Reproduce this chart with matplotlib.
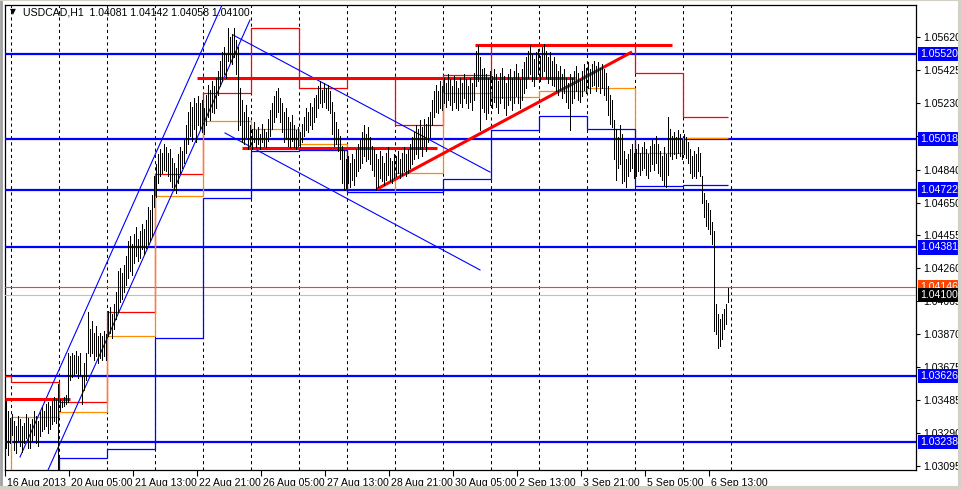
import matplotlib
matplotlib.use("Agg")
import matplotlib.pyplot as plt
import numpy as np
from matplotlib.transforms import blended_transform_factory, ScaledTranslation
from matplotlib.lines import Line2D

plt.rcParams['font.family'] = ['Liberation Sans', 'DejaVu Sans']

# ---------------- data ----------------
# hourly bar highs / lows, in units of 0.00001 above 1.00000 (e.g. 3483 -> 1.03483)
high_pts = [
    3480,3420,3380,3400,3360,3330,3390,3370,3330,3350,3400,3380,3340,3370,3420,3390,3360,3410,3440,3420,3460,3470,3450,3480,3500,3490,3580,
    3490,3480,3500,3510,3760,3740,3760,3750,3770,3740,3760,3630,3700,3760,4000,3900,3950,3880,3920,3860,3880,
    3860,3890,3870,4010,4030,3990,4050,4120,4240,4260,4230,4280,4330,4420,4450,4400,4460,4500,4430,4480,4520,4490,4540,4620,4600,4690,4800,4870,4930,4960,4940,4990,4970,
    4940,4960,4910,4880,4850,4930,4970,4950,5020,5100,5180,5240,5210,5260,5230,5270,5230,5250,
    5200,5280,5340,5310,5360,5330,5380,5420,5480,5530,5560,5520,5670,5620,5640,5673,5600,5560,5320,5250,5180,5220,5150,
    5100,5080,5120,5070,5090,5050,5110,5080,5060,5140,5190,5230,5270,5300,5320,5260,5230,5180,5200,5150,5120,5160,5100,5070,5090,
    5060,5110,5150,5200,5180,5230,5210,5260,5280,5330,5360,5310,5350,5320,5340,5300,5240,5180,5120,5080,5040,4980,4950,4900,
    4920,4880,4930,4900,4960,4990,5020,5060,5100,5050,5090,5030,4980,4960,4930,4900,4950,4920,4880,4940,4970,4910,4890,4930,
    4920,4950,4900,4940,4970,4930,4960,4990,5030,5060,5100,5080,5130,5090,5140,5110,5150,5180,5250,5300,5340,5300,5360,5330,
    5380,5350,5400,5370,5330,5390,5360,5320,5380,5350,5400,5370,5330,5380,5350,5410,5540,5570,5500,5430,5440,5400,5380,5420,
    5390,5430,5400,5360,5410,5440,5390,5350,5400,5430,5380,5420,5460,5410,5370,5430,5470,5500,5540,5573,5520,5490,5530,5550,
    5510,5560,5580,5540,5500,5530,5480,5500,5460,5420,5450,5400,5430,5380,5350,5400,5380,5420,5450,5410,5370,5420,5460,5440,
    5470,5430,5460,5480,5450,5470,5440,5460,5430,5410,5330,5280,5250,5130,5080,5030,5100,5050,4950,4900,4930,4960,4990,4940,
    4960,4990,4940,4970,5000,4960,4930,4980,5020,4990,5040,4990,4950,4920,4970,4930,5150,5080,5040,5060,5030,5070,5050,5020,
    5050,5030,5000,4960,4920,4950,4930,4970,4940,4800,4700,4660,4640,4600,4530,4480,4050,3990,3960,3990,4020,4050,4142,
]
low_pts = [
    3200,3160,3230,3280,3190,3170,3250,3210,3180,3230,3260,3200,3200,3240,3280,3230,3210,3270,3300,3310,3330,3290,3310,3340,3360,3350,3075,
    3420,3440,3450,3460,3470,3600,3620,3630,3640,3610,3630,3460,3540,3600,3760,3740,3760,3720,3740,3700,3730,
    3720,3740,3720,3860,3880,3850,3900,3960,4000,4060,4080,4120,4160,4200,4240,4220,4290,4330,4300,4320,4370,4340,4380,4400,4420,4450,4620,4680,4760,4800,4820,4840,4830,
    4800,4770,4740,4720,4700,4760,4820,4850,4880,4940,4990,5040,5010,5080,5000,5100,5080,5060,
    5050,5100,5150,5130,5180,5170,5200,5280,5330,5360,5400,5380,5480,5470,5460,5500,5400,5070,5100,5000,4990,5030,4960,
    4980,4960,5000,4970,4990,4960,5000,4980,4970,5010,5040,5080,5120,5150,5180,5120,5060,5000,5020,4980,4970,5010,4970,4960,4980,
    4970,5000,5040,5070,5060,5100,5080,5120,5150,5200,5230,5210,5240,5200,5190,5170,5050,4980,4990,4950,4900,4760,4720,4730,
    4760,4740,4780,4750,4800,4830,4850,4880,4920,4890,4900,4870,4840,4800,4720,4740,4790,4770,4750,4780,4810,4770,4760,4790,
    4800,4820,4790,4810,4830,4800,4820,4850,4870,4900,4930,4910,4960,4920,4980,4950,5000,5030,5100,5150,5180,5170,5200,5190,
    5230,5210,5250,5220,5190,5240,5200,5190,5230,5210,5260,5230,5200,5240,5190,5250,5330,5360,5073,5200,5180,5140,5170,5220,
    5200,5240,5210,5170,5230,5260,5200,5160,5220,5250,5190,5230,5270,5230,5200,5250,5290,5320,5380,5400,5360,5330,5370,5400,
    5360,5390,5420,5380,5350,5370,5340,5330,5300,5280,5310,5260,5290,5240,5200,5073,5230,5260,5300,5250,5240,5270,5310,5290,
    5320,5290,5330,5340,5300,5330,5290,5320,5280,5250,5160,5110,5090,4900,4780,4850,4870,4760,4770,4740,4800,4830,4850,4790,
    4800,4830,4810,4840,4850,4810,4790,4830,4870,4840,4880,4820,4800,4780,4750,4740,4810,4920,4900,4930,4910,4940,4920,4900,
    4930,4910,4880,4820,4790,4800,4790,4830,4800,4640,4560,4510,4490,4460,4400,3890,3870,3790,3800,3840,3900,3930,4058,
]

# previous-day high / close / low levels, one per trading day shown
day_high = [1.03625, 1.03589, 1.03472, 1.04001, 1.04814, 1.05290, 1.05673, 1.05320,
            1.05379, 1.05102, 1.05396, 1.05567, 1.05573, 1.05573, 1.05408, 1.05149]
day_close = [1.02900, 1.03383, 1.03413, 1.03860, 1.04684, 1.05126, 1.05078, 1.04990,
             1.04708, 1.04820, 1.05290, 1.05267, 1.05302, 1.05320, 1.04937, 1.05025]
day_low = [1.02800, 1.02900, 1.03142, 1.03195, 1.03848, 1.04672, 1.04949, 1.04955,
           1.04708, 1.04708, 1.04784, 1.05073, 1.05155, 1.05078, 1.04743, 1.04749]

# horizontal support / resistance levels
level_prices = [1.05520, 1.05018, 1.04722, 1.04381, 1.03626, 1.03238]
level_labels = ["1.05520", "1.05018", "1.04722", "1.04381", "1.03626", "1.03238"]
alert_price, alert_label = 1.04146, "1.04146"
bid_price, bid_label = 1.04100, "1.04100"

# hand-drawn lines: (bar_start, price_start, bar_end, price_end)
red_thick_segments = [
    (95.5, 1.05379, 284.5, 1.05379),
    (234.5, 1.05573, 333.0, 1.05573),
    (118.0, 1.04967, 215.5, 1.04967),
    (-0.5, 1.03489, 32.0, 1.03489),
    (185.5, 1.04725, 313.0, 1.05532),
]
blue_trend_lines = [
    (7.0, 1.03148, 108.0, 1.05808),
    (21.0, 1.03071, 122.0, 1.05720),
    (113.5, 1.05632, 242.0, 1.04825),
    (109.5, 1.05055, 237.0, 1.04249),
]

price_ticks = [1.05620, 1.05425, 1.05230, 1.05035, 1.04840, 1.04645, 1.04455,
               1.04260, 1.04065, 1.03870, 1.03675, 1.03485, 1.03290, 1.03095]
price_tick_labels = ["1.05620", "1.05425", "1.05230", "1.05035", "1.04840", "1.04650", "1.04455",
                     "1.04260", "1.04065", "1.03870", "1.03675", "1.03485", "1.03290", "1.03095"]
time_labels = ["16 Aug 2013", "20 Aug 05:00", "21 Aug 13:00", "22 Aug 21:00", "26 Aug 05:00",
               "27 Aug 13:00", "28 Aug 21:00", "30 Aug 05:00", "2 Sep 13:00", "3 Sep 21:00",
               "5 Sep 05:00", "6 Sep 13:00"]
title_text = "USDCAD,H1  1.04081 1.04142 1.04058 1.04100"

# ---------------- figure ----------------
W, H = 962, 490
FS = 7.6
fig = plt.figure(figsize=(W / 100, H / 100), dpi=100)
fig.patch.set_facecolor("white")
L, R, T, B = 5, 916, 5, 470
ax = fig.add_axes([L / W, 1 - B / H, (R - L) / W, (B - T) / H])
ax.set_facecolor("white")

n = min(len(high_pts), len(low_pts))
xb = np.arange(n)
highs = 1 + np.array(high_pts[:n]) * 1e-5
lows = 1 + np.array(low_pts[:n]) * 1e-5

ax.set_xlim(-0.5, 455.0)
ax.set_ylim(1.030714, 1.058083)

# vertical dashed grid (one per trading day)
bars_per_day = 24
for k in range(16):
    ax.axvline(2.5 + bars_per_day * k, color="black", lw=0.75, ls=(0, (3, 3)), zorder=1)

# horizontal levels
for p in level_prices:
    ax.axhline(p, color="#0000FF", lw=1.6, zorder=3)
ax.axhline(alert_price, color="#FF4500", lw=0.8, zorder=3)
ax.axhline(bid_price, color="#C0C0C0", lw=0.8, zorder=3)

# daily step levels
edges = [-0.5] + [2.5 + bars_per_day * k for k in range(len(day_high) - 1)] + [n - 1]
ax.stairs(day_high, edges, baseline=None, color="#FF0000", lw=0.9, zorder=4)
ax.stairs(day_close, edges, baseline=None, color="#FF8C00", lw=0.9, zorder=4)
ax.stairs(day_low, edges, baseline=None, color="#0000FF", lw=0.9, zorder=4)

# trend lines
for x0, y0, x1, y1 in blue_trend_lines:
    ax.plot([x0, x1], [y0, y1], color="#0000FF", lw=0.8, zorder=4)
for x0, y0, x1, y1 in red_thick_segments:
    ax.plot([x0, x1], [y0, y1], color="#FF0000", lw=2.2, zorder=5, solid_capstyle="butt")

# bars
ax.vlines(xb, lows, highs, color="black", lw=0.55, zorder=6, antialiased=False)

# spines
for s in ax.spines.values():
    s.set_color("black")
    s.set_linewidth(0.9)

# right price scale
ax.yaxis.tick_right()
ax.set_yticks(price_ticks, price_tick_labels)
ax.tick_params(axis="y", length=3, width=0.8, pad=2, labelsize=FS, colors="black")

trans = blended_transform_factory(ax.transAxes, ax.transData)
xlab = 1 + 4.5 / (R - L)
box = dict(boxstyle="square,pad=0.2", ec="none")
for p, s in zip(level_prices, level_labels):
    ax.text(xlab, p, s, transform=trans, fontsize=FS, color="white", va="center", ha="left",
            bbox=dict(box, fc="#0000FF"), zorder=10, clip_on=False)
ax.text(xlab, alert_price, alert_label, transform=trans, fontsize=FS, color="white", va="center",
        ha="left", bbox=dict(box, fc="#FF4500"), zorder=10, clip_on=False)
ax.text(xlab, bid_price, bid_label, transform=trans, fontsize=FS, color="white", va="center",
        ha="left", bbox=dict(box, fc="black"), zorder=11, clip_on=False)

# time axis
tick_pos = [-0.5 + 32 * k for k in range(len(time_labels))]
ax.set_xticks(tick_pos, time_labels)
ax.tick_params(axis="x", length=4, width=0.8, pad=2, labelsize=FS, colors="black")
off = ScaledTranslation(2 / 100, 0, fig.dpi_scale_trans)
for lab in ax.get_xticklabels():
    lab.set_ha("left")
    lab.set_transform(lab.get_transform() + off)

# title
ax.text(5 / (R - L), 1 - 7 / (B - T), "\u25BC", transform=ax.transAxes, fontsize=5.5,
        va="center", ha="left", zorder=12, family="DejaVu Sans")
ax.text(18 / (R - L), 1 - 7.5 / (B - T), title_text, transform=ax.transAxes, fontsize=FS,
        va="center", ha="left", zorder=12)

# window border
fig.add_artist(Line2D([0.5 / W, 0.5 / W], [0, 1], transform=fig.transFigure, color="#A0A0A0", lw=2))
fig.add_artist(Line2D([0, 1], [1 - 0.5 / H, 1 - 0.5 / H], transform=fig.transFigure, color="#D4D0C8", lw=1.5))
fig.add_artist(Line2D([1 - 2 / W, 1 - 2 / W], [0, 1], transform=fig.transFigure, color="#D4D0C8", lw=3))
fig.add_artist(Line2D([0, 1], [2.5 / H, 2.5 / H], transform=fig.transFigure, color="#D4D0C8", lw=3))

fig.savefig("out.png", dpi=100, facecolor=fig.get_facecolor())
